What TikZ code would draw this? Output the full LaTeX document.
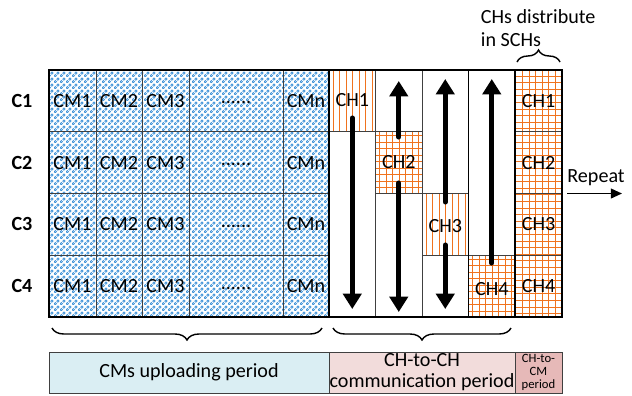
\documentclass[tikz,border=0pt]{standalone}
\usepackage{fontspec}
\setmainfont{Carlito}
\usepackage{xcolor}
\usetikzlibrary{patterns,decorations.pathreplacing,arrows.meta}
\definecolor{cmblue}{RGB}{60,145,215}
\definecolor{chorange}{RGB}{240,115,30}
\definecolor{upblue}{RGB}{218,238,243}
\definecolor{chpink}{RGB}{242,220,219}
\definecolor{cmpink}{RGB}{230,185,184}
\pgfdeclarepatternformonly{cmdots}{\pgfpointorigin}{\pgfpoint{4.3pt}{4.3pt}}{\pgfpoint{4.3pt}{4.3pt}}{%
	\pgfsetlinewidth{0.6pt}%
	\pgfpathcircle{\pgfpoint{1.075pt}{1.075pt}}{1pt}%
	\pgfpathcircle{\pgfpoint{3.225pt}{3.225pt}}{1pt}%
	\pgfusepath{stroke}}

\begin{document}
\begin{tikzpicture}[x=0.25mm,y=-0.25mm,font=\fontsize{14.3}{17}\selectfont,
		thinline/.style={draw=black!75,line width=0.5pt},
		frame/.style={draw=black,line width=1.4pt},
		cmcell/.style={pattern=cmdots,pattern color=cmblue},
		hatchline/.style={draw=chorange,line width=0.7pt},
		flow/.style={line width=3.6pt,line cap=round,-{Triangle[width=13pt,length=11pt]}},
		period/.style={draw=black!75,line width=0.5pt,minimum height=10.25mm,inner sep=0pt,align=center},
		brc/.style={decorate,decoration={brace,amplitude=3mm},line width=1pt}]
	\useasboundingbox (0,0) rectangle (632,395);
	% fills
	\fill[cmcell] (49,70) rectangle (329,317);
	% CH1 and CH3 with vertical lines
	\foreach \x in {333,339.5,...,374}
		\draw[hatchline] (\x,70) -- (\x,131.75);
	\foreach \x in {426,432.5,...,467}
		\draw[hatchline] (\x,193.5) -- (\x,255.25);
	% CH2 and CH4 with grid
	\foreach \x in {379.5,386,...,421}
		\draw[hatchline] (\x,131.75) -- (\x,193.5);
	\foreach \y in {135.5,142,...,193}
		\draw[hatchline] (375.5,\y) -- (422,\y);
	\foreach \x in {472.5,479,...,514}
		\draw[hatchline] (\x,255.25) -- (\x,317);
	\foreach \y in {259,265.5,...,316}
		\draw[hatchline] (468.5,\y) -- (515,\y);
	% SCH column
	\foreach \x in {522.5,529.1,...,561}
		\draw[hatchline] (\x,70) -- (\x,317);
	\foreach \y in {76,82.6,...,316}
		\draw[hatchline] (515,\y) -- (562,\y);
	% thin grid
	\foreach \x in {96,142,189,283,375.5,422}
		\draw[thinline] (\x,70) -- (\x,317);
	\foreach \y in {131.75,193.5,255.25} {
		\draw[thinline] (49,\y) -- (329,\y);
		\draw[thinline] (515,\y) -- (562,\y);
	}
	\draw[thinline] (329,131.75) -- (422,131.75);
	\draw[thinline] (375.5,193.5) -- (468.5,193.5);
	\draw[thinline] (422,255.25) -- (515,255.25);
	% frame
	\draw[frame] (49,70) rectangle (562,317);
	\foreach \x in {329,468.5,515}
		\draw[frame] (\x,70) -- (\x,317);
	% labels
	\foreach \row in {1,...,4} {
		\node[font=\fontsize{14.3}{17}\selectfont\bfseries] (c\row) at (22,{70+(\row-0.5)*61.75}) {C\row};
		\node (cma\row) at (72.5,{70+(\row-0.5)*61.75}) {CM1};
		\node (cmb\row) at (119,{70+(\row-0.5)*61.75}) {CM2};
		\node (cmc\row) at (165.5,{70+(\row-0.5)*61.75}) {CM3};
		\node (cmd\row) at (236,{72+(\row-0.5)*61.75}) {......};
		\node (cmn\row) at (306,{70+(\row-0.5)*61.75}) {CMn};
		\node (sch\row) at (538.5,{70+(\row-0.5)*61.75}) {CH\row};
	}
	\node (ch1) at (352.25,100) {CH1};
	\node (ch2) at (398.75,162) {CH2};
	\node (ch3) at (445.25,226) {CH3};
	\node (ch4) at (491.75,289) {CH4};
	% arrows
	\coordinate (a1s) at (352.25,118);
	\coordinate (a1e) at (352.25,309);
	\coordinate (a2s) at (398.75,137);
	\coordinate (a2e) at (398.75,81);
	\coordinate (a3s) at (398.75,183);
	\coordinate (a3e) at (398.75,312);
	\coordinate (a4s) at (445.25,202);
	\coordinate (a4e) at (445.25,79);
	\coordinate (a5s) at (445.25,245);
	\coordinate (a5e) at (445.25,309);
	\coordinate (a6s) at (491.75,263);
	\coordinate (a6e) at (491.75,79);
	\foreach \a in {1,...,6}
		\draw[flow] (a\a s) -- (a\a e);
	% braces
	\draw[brc] (322,328) -- (52,328);
	\draw[brc] (511,328) -- (333,328);
	\draw[brc] (517,62) -- (560,62);
	% periods
	\node[period,fill=upblue,minimum width=70mm] (up) at (189,372.5) {CMs uploading period};
	\node[period,fill=chpink,minimum width=46.5mm,font=\fontsize{14.3}{15}\selectfont] (chch) at (422,372.5) {CH-to-CH\\communication period};
	\node[period,fill=cmpink,minimum width=11.75mm,font=\fontsize{9}{9.2}\selectfont] (chcm) at (538.5,372.5) {CH-to-\\CM\\period};
	% repeat
	\node (rep) at (596,178) {Repeat};
	\coordinate (rs) at (567,193.5);
	\coordinate (re) at (622,193.5);
	\draw[line width=1.2pt,-{Triangle[width=7pt,length=8pt]}] (rs) -- (re);
	\node[align=left,anchor=west,font=\fontsize{14.3}{16.3}\selectfont] (dist) at (476,28.5) {CHs distribute\\in SCHs};
\end{tikzpicture}
\end{document}
